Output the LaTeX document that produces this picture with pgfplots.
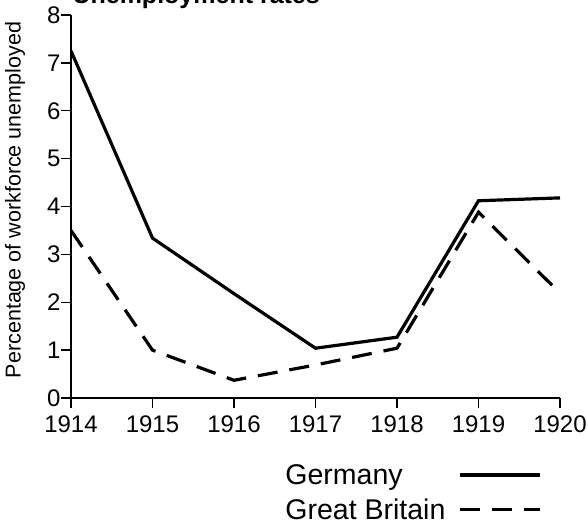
\documentclass[border=0pt]{standalone}
\usepackage{fontspec}
\setmainfont{Liberation Sans}
\usepackage{pgfplots}
\pgfplotsset{compat=1.18}

\begin{document}
\begin{tikzpicture}
\useasboundingbox (0pt,0pt) rectangle (588pt,527pt);
% title is cut off at the top edge of the picture, as in the scan
\node[anchor=base west, font=\bfseries\fontsize{25}{25}\selectfont]
    at (69pt,523pt) {Unemployment rates};
\begin{axis}[
    at={(71pt,129pt)}, anchor=south west,
    width=489pt, height=383pt, scale only axis,
    axis lines=left,
    axis line style={-, line width=1.8pt},
    xmin=1914, xmax=1920, ymin=0, ymax=8,
    xtick={1914,1915,1916,1917,1918,1919,1920},
    xticklabels={1914,1915,1916,1917,1918,1919,1920},
    ytick={0,1,2,3,4,5,6,7,8},
    tick align=outside,
    major tick length=10pt,
    tick style={line width=1.3pt, black},
    /pgf/number format/assume math mode=true,
    every tick label/.append style={font=\fontsize{24}{24}\selectfont},
    xticklabel style={yshift=-4pt},
    yticklabel style={xshift=3pt},
    ylabel={Percentage of workforce unemployed},
    ylabel style={font=\fontsize{21.5}{21.5}\selectfont,
        at={(axis description cs:-0.1145,0.517)}, anchor=center},
    legend plot pos=right,
    legend cell align=left,
    legend style={at={(axis description cs:0.436,-0.17)}, anchor=north west,
        draw=none, fill=none, inner sep=0pt,
        font=\fontsize{28.5}{28.5}\selectfont,
        row sep=11pt, column sep=12pt,
        nodes={inner sep=1pt}},
    legend image code/.code={\draw[#1] (0pt,0pt) -- (80pt,0pt);},
]
\addplot[black, line width=3.2pt] coordinates {
    (1914,7.25) (1915,3.34) (1916,2.18) (1917,1.04) (1918,1.27) (1919,4.12) (1920,4.18)
};
\addlegendentry{Germany}
\addplot[black, line width=3.2pt, dash pattern=on 20pt off 12pt] coordinates {
    (1914,3.5) (1915,1.0) (1916,0.37) (1917,0.69) (1918,1.04) (1919,3.88) (1920,2.19)
};
\addlegendentry{Great Britain}
\end{axis}
\end{tikzpicture}
\end{document}
